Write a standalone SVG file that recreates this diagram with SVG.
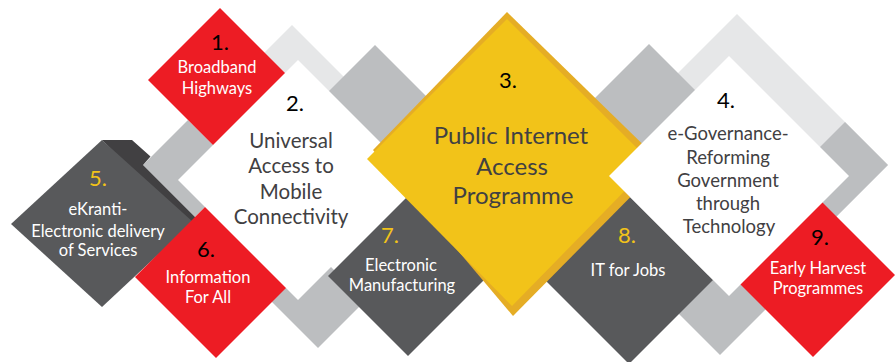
<svg xmlns="http://www.w3.org/2000/svg" width="896" height="362" viewBox="0 0 896 362">
<style>
.lg{fill:#e6e7e8}
.mg{fill:#bcbec0}
.dk{fill:#58595b}
.sh{fill:#414042}
.rd{fill:#ed1c24}
.wh{fill:#ffffff}
.yd{fill:#e5ad25}
.yb{fill:#f2c319}
text{font-family:Lato,"Open Sans","Liberation Sans",sans-serif;text-anchor:middle}
.num{fill:#000000;font-size:22px}
.numy{fill:#f2c319;font-size:22px}
.tw{fill:#ffffff;font-size:16.5px}
.tg{fill:#414042}
</style>
<rect width="896" height="362" fill="#ffffff"/>
<g id="connectors">
<polygon class="lg" points="292,25 427,160 292,295 157,160"/>
<polygon class="lg" points="737,14 888,165 737,316 586,165"/>
<polygon class="mg" points="143,165 188,120 240,172 195,217"/>
<polygon class="mg" points="375,45 427,97 375,149 323,97"/>
<polygon class="mg" points="649,44 701,96 645,152 593,100"/>
<polygon class="mg" points="318,254 365,301 318,348 271,301"/>
<polygon class="mg" points="720,263 766,309 720,355 674,309"/>
<polygon class="mg" points="845,122 888,165 818,235 775,192"/>
</g>
<g id="node5">
<polygon class="sh" points="102,140 132,140 150.5,156.5 143,165 205,227 190,227"/>
<polygon class="dk" points="11,224 102,140 193,222 102,307"/>
<text class="numy" x="98" y="186">5.</text>
<text class="tw" x="98" y="215">eKranti-</text>
<text class="tw" x="98" y="237">Electronic delivery</text>
<text class="tw" x="98" y="256">of Services</text>
</g>
<g id="node1">
<polygon class="rd" points="220,8 292,80 220,152 148,80"/>
<text class="num" x="220" y="50">1.</text>
<text class="tw" x="217" y="73">Broadband</text>
<text class="tw" x="217" y="94">Highways</text>
</g>
<g id="node6">
<polygon class="rd" points="216,196 297,277 216,358 135,277"/>
<text class="num" x="206" y="257">6.</text>
<text class="tw" x="208" y="283">Information</text>
<text class="tw" x="208" y="303">For All</text>
</g>
<g id="node7">
<polygon class="dk" points="408,196 488,276 408,356 328,276"/>
<text class="numy" x="390" y="243">7.</text>
<text class="tw" x="401" y="271">Electronic</text>
<text class="tw" x="402" y="291">Manufacturing</text>
</g>
<g id="node8">
<polygon class="dk" points="629,196 713,280 629,364 545,280"/>
<text class="numy" x="627" y="243">8.</text>
<text class="tw" x="628" y="276">IT for Jobs</text>
</g>
<g id="node9">
<polygon class="rd" points="813,193 895,275 813,357 731,275"/>
<text class="num" x="820" y="245">9.</text>
<text class="tw" x="818" y="274">Early Harvest</text>
<text class="tw" x="818" y="294">Programmes</text>
</g>
<g id="node2">
<polygon class="wh" points="298,60 418,180 298,300 178,180"/>
<text class="num" x="295" y="111">2.</text>
<text class="tg" x="291" y="148" font-size="20.5">Universal</text>
<text class="tg" x="291" y="173" font-size="20.5">Access to</text>
<text class="tg" x="291" y="199" font-size="20.5">Mobile</text>
<text class="tg" x="291" y="224" font-size="20.5">Connectivity</text>
</g>
<g id="node3">
<polygon class="yd" points="507,12 663,164 513,316 373,150"/>
<polygon class="yb" points="507,19 652,163 512,306 367,159"/>
<text class="num" x="508" y="88">3.</text>
<text class="tg" x="511" y="144" font-size="24">Public Internet</text>
<text class="tg" x="512" y="175" font-size="24">Access</text>
<text class="tg" x="513" y="204" font-size="24">Programme</text>
</g>
<g id="node4">
<polygon class="wh" points="729,56 849,176 729,296 609,176"/>
<text class="num" x="726" y="108">4.</text>
<text class="tg" x="728" y="140" font-size="18.5">e-Governance-</text>
<text class="tg" x="728" y="164" font-size="18.5">Reforming</text>
<text class="tg" x="728" y="187" font-size="18.5">Government</text>
<text class="tg" x="728" y="210" font-size="18.5">through</text>
<text class="tg" x="729" y="233" font-size="18.5">Technology</text>
</g>
</svg>
